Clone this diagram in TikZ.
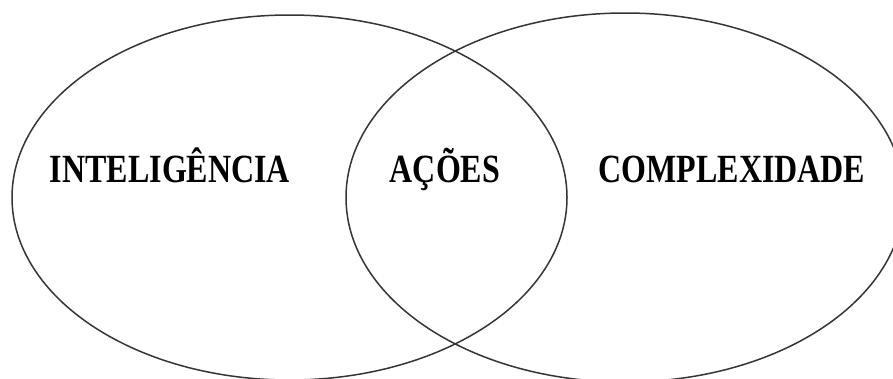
\documentclass[tikz,border=0pt]{standalone}
\usepackage{fontspec}
\setmainfont{Liberation Serif}
\newfontfamily\narrowserif[FakeStretch=0.8]{Liberation Serif}
\usetikzlibrary{shapes.geometric}
\definecolor{ringline}{HTML}{353535}
\begin{document}
\begin{tikzpicture}[x=1pt,y=-1pt,
  ring/.style={ellipse, draw=ringline, line width=1.5pt, inner sep=0pt},
  label/.style={font=\narrowserif\fontsize{40}{40}\selectfont\bfseries, inner sep=0pt, anchor=base}]
  \useasboundingbox[fill=white] (0,0) rectangle (893,378);
  % the two overlapping sets
  \node[ring, minimum width=555pt, minimum height=365pt] (left) at (289.5,197.5) {};
  \node[ring, minimum width=558pt, minimum height=369pt] (right) at (625,197.5) {};
  % set labels
  \node[label] (intel) at (170,182) {INTELIGÊNCIA};
  \node[label] (acoes) at (445,182) {AÇÕES};
  \node[label] (compl) at (732,182) {COMPLEXIDADE};
\end{tikzpicture}
\end{document}
